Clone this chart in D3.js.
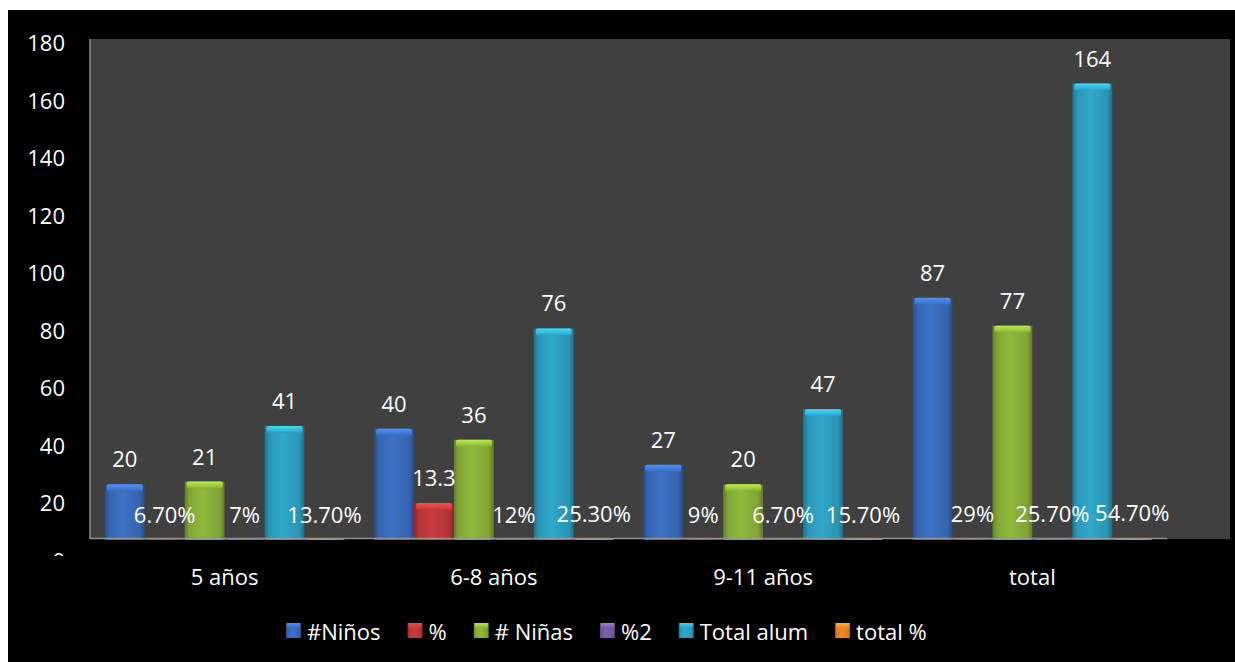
<!DOCTYPE html>
<html>
<head>
<meta charset="utf-8">
<script src="https://cdn.jsdelivr.net/npm/d3@7/dist/d3.min.js"></script>
<style>
  html, body { margin: 0; padding: 0; background: #ffffff; }
  svg { display: block; }
  text { font-family: "Open Sans", "Noto Sans", sans-serif; fill: #ffffff; }
</style>
</head>
<body>
<svg id="chart" width="1235" height="662"></svg>
<script>
// ---- data ----
const categories = ["5 años", "6-8 años", "9-11 años", "total"];
const seriesNames = ["#Niños", "%", "# Niñas", "%2", "Total alum", "total %"];
const ninos      = [20, 40, 27, 87];
const pctNinos   = [0.067, 13.3, 0.09, 0.29];
const ninas      = [21, 36, 20, 77];
const pctNinas   = [0.07, 0.12, 0.067, 0.257];
const totalAlum  = [41, 76, 47, 164];
const totalPct   = [0.137, 0.253, 0.157, 0.547];
const labelsNinos     = ["20", "40", "27", "87"];
const labelsPctNinos  = ["6.70%", "13.3", "9%", "29%"];
const labelsNinas     = ["21", "36", "20", "77"];
const labelsPctNinas  = ["7%", "12%", "6.70%", "25.70%"];
const labelsTotalAlum = ["41", "76", "47", "164"];
const labelsTotalPct  = ["13.70%", "25.30%", "15.70%", "54.70%"];
const yTicks = [0, 20, 40, 60, 80, 100, 120, 140, 160, 180];
const colors = ["#3b6dbf", "#c23a3b", "#8cb23a", "#7a5ea6", "#2fa2c4", "#e6862c"];

const seriesValues = [ninos, pctNinos, ninas, pctNinas, totalAlum, totalPct];
const seriesLabels = [labelsNinos, labelsPctNinos, labelsNinas, labelsPctNinas, labelsTotalAlum, labelsTotalPct];

// ---- layout ----
const svg = d3.select("#chart");
const plot = { left: 90, right: 1230, top: 39, bottom: 539, floorRight: 1167 };

svg.append("rect").attr("x", 8).attr("y", 10).attr("width", 1235 - 8).attr("height", 662 - 10).attr("fill", "#000");
svg.append("rect").attr("x", plot.left).attr("y", plot.top)
  .attr("width", plot.right - plot.left).attr("height", plot.bottom - plot.top).attr("fill", "#404040");

// scales
const x0 = d3.scaleBand().domain(categories).range([plot.left, plot.floorRight]).padding(0);
const x1 = d3.scaleBand().domain(seriesNames).range([0, x0.bandwidth()]).paddingInner(0).paddingOuter(0.37);
const yBar = d3.scaleLinear().domain([0, 180]).range([540, 39]);
const yAxisScale = d3.scaleLinear().domain([0, 180]).range([560.5, 43]);

// gradients
const defs = svg.append("defs");
function shade(c, k) { return d3.color(c).darker(k).formatHex(); }
function tint(c, k) { return d3.color(c).brighter(k).formatHex(); }
colors.forEach((c, i) => {
  const g = defs.append("linearGradient").attr("id", "gb" + i).attr("x1", 0).attr("x2", 1).attr("y1", 0).attr("y2", 0);
  g.append("stop").attr("offset", "0%").attr("stop-color", shade(c, 1.0));
  g.append("stop").attr("offset", "12%").attr("stop-color", shade(c, 0.2));
  g.append("stop").attr("offset", "45%").attr("stop-color", tint(c, 0.1));
  g.append("stop").attr("offset", "88%").attr("stop-color", shade(c, 0.25));
  g.append("stop").attr("offset", "100%").attr("stop-color", shade(c, 1.1));
  const t = defs.append("linearGradient").attr("id", "gt" + i).attr("x1", 0).attr("x2", 0).attr("y1", 0).attr("y2", 1);
  t.append("stop").attr("offset", "0%").attr("stop-color", tint(c, 0.9));
  t.append("stop").attr("offset", "60%").attr("stop-color", tint(c, 0.4));
  t.append("stop").attr("offset", "100%").attr("stop-color", shade(c, 0.1));
});

// left axis line
svg.append("line").attr("x1", plot.left).attr("x2", plot.left).attr("y1", plot.top).attr("y2", plot.bottom)
  .attr("stroke", "#8c8c8c").attr("stroke-width", 1.5);

// y axis tick labels (bottom "0" partly hidden like reference)
defs.append("clipPath").attr("id", "yclip").append("rect").attr("x", -100).attr("y", 0).attr("width", 200).attr("height", 556);
const yAxisG = svg.append("g").attr("transform", "translate(65,0)").attr("clip-path", "url(#yclip)")
  .call(d3.axisLeft(yAxisScale).tickValues(yTicks).tickSize(0).tickPadding(0).tickFormat(d3.format("d")));
yAxisG.select(".domain").remove();
yAxisG.selectAll("text").attr("font-size", 22).attr("fill", "#fff")
  .style("font-family", '"Open Sans", sans-serif').attr("dy", "0.36em");

// bars
const groups = svg.append("g").selectAll("g").data(categories).join("g")
  .attr("transform", d => `translate(${x0(d)},0)`);

seriesNames.forEach((s, si) => {
  const vals = seriesValues[si];
  const bw = x1.bandwidth();
  groups.each(function (cat, ci) {
    const g = d3.select(this);
    const v = vals[ci];
    const top = Math.min(yBar(v), 539);
    const h = Math.max(540 - top, 1.5);
    const bx = x1(s);
    g.append("rect").attr("x", bx).attr("y", 540 - h).attr("width", bw).attr("height", h)
      .attr("fill", `url(#gb${si})`);
    if (h > 10) {
      g.append("rect").attr("x", bx + 2).attr("y", 540 - h).attr("width", bw - 4).attr("height", 7)
        .attr("rx", 2).attr("fill", `url(#gt${si})`).attr("opacity", 0.9);
    }
  });
});

// floor axis line
svg.append("line").attr("x1", plot.left).attr("x2", plot.floorRight).attr("y1", 538.5).attr("y2", 538.5)
  .attr("stroke", "#9a9a9a").attr("stroke-width", 1.3).attr("opacity", 0.9);

// value labels
seriesNames.forEach((s, si) => {
  const vals = seriesValues[si];
  groups.append("text")
    .attr("x", x1(s) + x1.bandwidth() / 2)
    .attr("y", (d, ci) => Math.min(yBar(vals[ci]), 540) - 17)
    .attr("text-anchor", "middle").attr("font-size", 22)
    .text((d, ci) => seriesLabels[si][ci]);
});

// category labels
svg.append("g").selectAll("text").data(categories).join("text")
  .attr("x", d => x0(d) + x0.bandwidth() / 2).attr("y", 585)
  .attr("text-anchor", "middle").attr("font-size", 22).text(d => d);

// legend
const legend = svg.append("g");
let lx = 286;
seriesNames.forEach((s, i) => {
  const it = legend.append("g").attr("transform", `translate(${lx},0)`);
  it.append("rect").attr("x", 0).attr("y", 623).attr("width", 15).attr("height", 15).attr("fill", `url(#gb${i})`);
  it.append("rect").attr("x", 1).attr("y", 623).attr("width", 13).attr("height", 5).attr("fill", `url(#gt${i})`).attr("opacity", 0.8);
  const t = it.append("text").attr("x", 21).attr("y", 640).attr("font-size", 22).text(s);
  lx += 21 + t.node().getComputedTextLength() + 27;
});
</script>
</body>
</html>
